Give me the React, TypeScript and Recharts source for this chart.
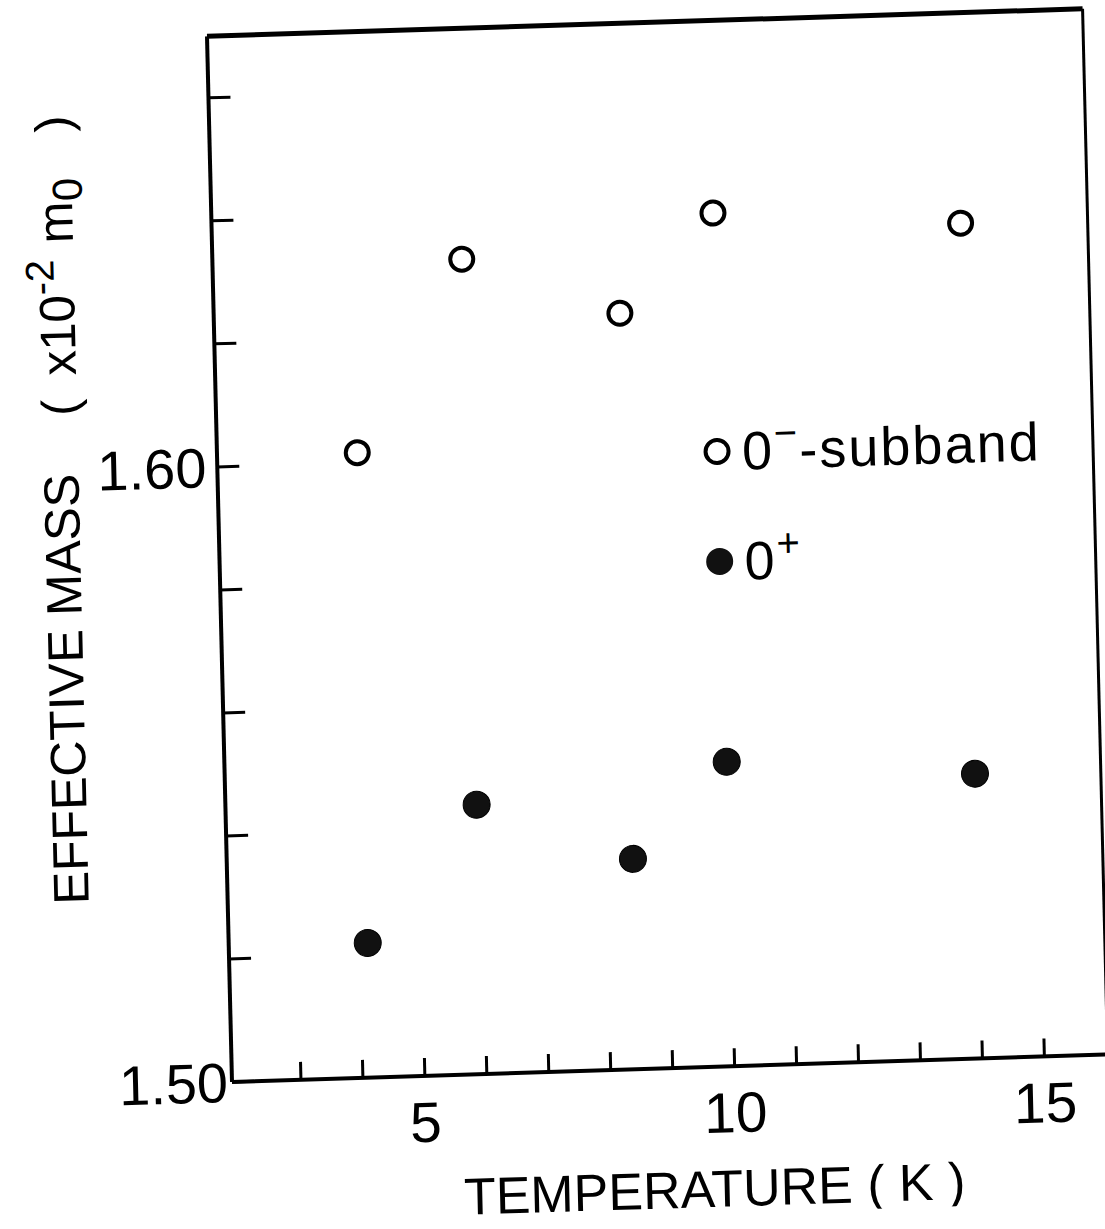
import { ScatterChart, Scatter, XAxis, YAxis, ReferenceLine, Legend } from 'recharts';

// values (temperature in K, mass in 1e-2 m0)
const tempMinus = [4.15, 5.91, 8.44, 9.98, 13.97];
const massMinus = [1.6016, 1.6325, 1.6229, 1.6387, 1.6358];
const tempPlus = [4.13, 5.94, 8.44, 9.99, 13.99];
const massPlus = [1.5219, 1.5438, 1.5342, 1.5495, 1.5463];

const xTicks = [3, 4, 5, 6, 7, 8, 9, 10, 11, 12, 13, 14, 15];
const xLabels = [5, 10, 15];
const yTicks = [1.5, 1.52, 1.54, 1.56, 1.58, 1.6, 1.62, 1.64, 1.66];
const yLabels = [1.5, 1.6];

const X_DOMAIN: [number, number] = [1.887, 16.02];
const Y_DOMAIN: [number, number] = [1.5, 1.67];

const FONT = '"Liberation Sans", Arial, sans-serif';

const minusData = tempMinus.map((t, i) => ({ t, m: massMinus[i] }));
const plusData = tempPlus.map((t, i) => ({ t, m: massPlus[i] }));

const OpenDot = (p: any) => (
  <circle cx={p.cx} cy={p.cy} r={11.5} fill="#fff" stroke="#000" strokeWidth={4} />
);
const FilledDot = (p: any) => (
  <circle cx={p.cx} cy={p.cy} r={13.5} fill="#111" stroke="#000" strokeWidth={1} />
);

function XTick({ x, y, payload }: any) {
  const v = payload.value;
  return (
    <g>
      <line x1={x} y1={y} x2={x} y2={y - 18} stroke="#000" strokeWidth={3} />
      {xLabels.includes(v) && (
        <text x={x} y={y + 45} dy={21} textAnchor="middle" fontSize={57} fontFamily={FONT} fill="#000">
          {v}
        </text>
      )}
    </g>
  );
}

function YTick({ x, y, payload }: any) {
  const v = payload.value;
  const gap = v === 1.5 ? 4 : 11;
  return (
    <g>
      <line x1={x} y1={y} x2={x + 22} y2={y} stroke="#000" strokeWidth={3} />
      {yLabels.includes(v) && (
        <text x={x - gap} y={y} dy={20} textAnchor="end" fontSize={56} fontFamily={FONT} fill="#000">
          {v.toFixed(2)}
        </text>
      )}
    </g>
  );
}

function XTitle({ viewBox }: any) {
  return (
    <text
      x={viewBox.x + 480}
      y={viewBox.y + 140}
      textAnchor="middle"
      fontSize={52}
      fontFamily={FONT}
      fill="#000"
    >
      TEMPERATURE ( K )
    </text>
  );
}

function YTitle() {
  const cx = 93;
  const cy = 505;
  return (
    <text
      x={cx}
      y={cy}
      transform={`rotate(-90 ${cx} ${cy})`}
      textAnchor="middle"
      fontSize={50}
      fontFamily={FONT}
      fill="#000"
    >
      EFFECTIVE MASS
      <tspan dx={58}>(</tspan>
      <tspan dx={24}>x10</tspan>
      <tspan dy={-20} fontSize={40}>-2</tspan>
      <tspan dy={20} dx={16}>m</tspan>
      <tspan dy={10} fontSize={42}>0</tspan>
      <tspan dy={-10} dx={46}>)</tspan>
    </text>
  );
}

function LegendBox({ payload }: any) {
  return (
    <div style={{ fontFamily: FONT, fontSize: 54, color: '#000', letterSpacing: 2 }}>
      {(payload || []).map((entry: any, i: number) => (
        <div key={i} style={{ display: 'flex', alignItems: 'center', height: 110 }}>
          <svg width={32} height={32}>
            {i === 0 ? (
              <circle cx={16} cy={16} r={11.5} fill="#fff" stroke="#000" strokeWidth={4} />
            ) : (
              <circle cx={16} cy={16} r={13.5} fill="#111" />
            )}
          </svg>
          <span style={{ marginLeft: 9, lineHeight: 1 }}>
            0
            <sup style={{ fontSize: 40, verticalAlign: 'top', position: 'relative', top: -10 }}>
              {i === 0 ? '−' : '+'}
            </sup>
            {i === 0 ? '-subband' : ''}
          </span>
        </div>
      ))}
    </div>
  );
}

export default function App() {
  return (
    <div
      style={{
        position: 'absolute',
        left: 0,
        top: 0,
        width: 1105,
        height: 1229,
        overflow: 'hidden',
        background: '#fff',
      }}
    >
      {/* the scan is slightly tilted: mimic it with a small rotate/shear */}
      <div
        style={{
          transform: 'matrix(0.9995, -0.0314, 0.0239, 0.9997, 0, 0)',
          transformOrigin: '232px 1082px',
          width: 1120,
          height: 1229,
        }}
      >
        <ScatterChart width={1120} height={1229} margin={{ top: 36, right: 12, bottom: 0, left: 0 }}>
          <XAxis
            type="number"
            dataKey="t"
            domain={X_DOMAIN}
            ticks={xTicks}
            interval={0}
            allowDataOverflow
            height={147}
            tickSize={0}
            tickMargin={0}
            tick={<XTick />}
            axisLine={{ stroke: '#000', strokeWidth: 4 }}
            tickLine={false}
            label={{ content: <XTitle /> }}
          />
          <YAxis
            type="number"
            dataKey="m"
            domain={Y_DOMAIN}
            ticks={yTicks}
            interval={0}
            allowDataOverflow
            width={232}
            tickSize={0}
            tickMargin={0}
            tick={<YTick />}
            axisLine={{ stroke: '#000', strokeWidth: 4 }}
            tickLine={false}
            label={{ content: <YTitle /> }}
          />
          <ReferenceLine y={Y_DOMAIN[1]} stroke="#000" strokeWidth={5} />
          <ReferenceLine x={X_DOMAIN[1]} stroke="#000" strokeWidth={3} />
          <Legend
            layout="vertical"
            align="center"
            verticalAlign="middle"
            content={<LegendBox />}
            wrapperStyle={{ left: 716, top: 412, width: 380 }}
          />
          <Scatter name="0⁻-subband" data={minusData} shape={<OpenDot />} isAnimationActive={false} />
          <Scatter name="0⁺" data={plusData} shape={<FilledDot />} isAnimationActive={false} />
        </ScatterChart>
      </div>
    </div>
  );
}
